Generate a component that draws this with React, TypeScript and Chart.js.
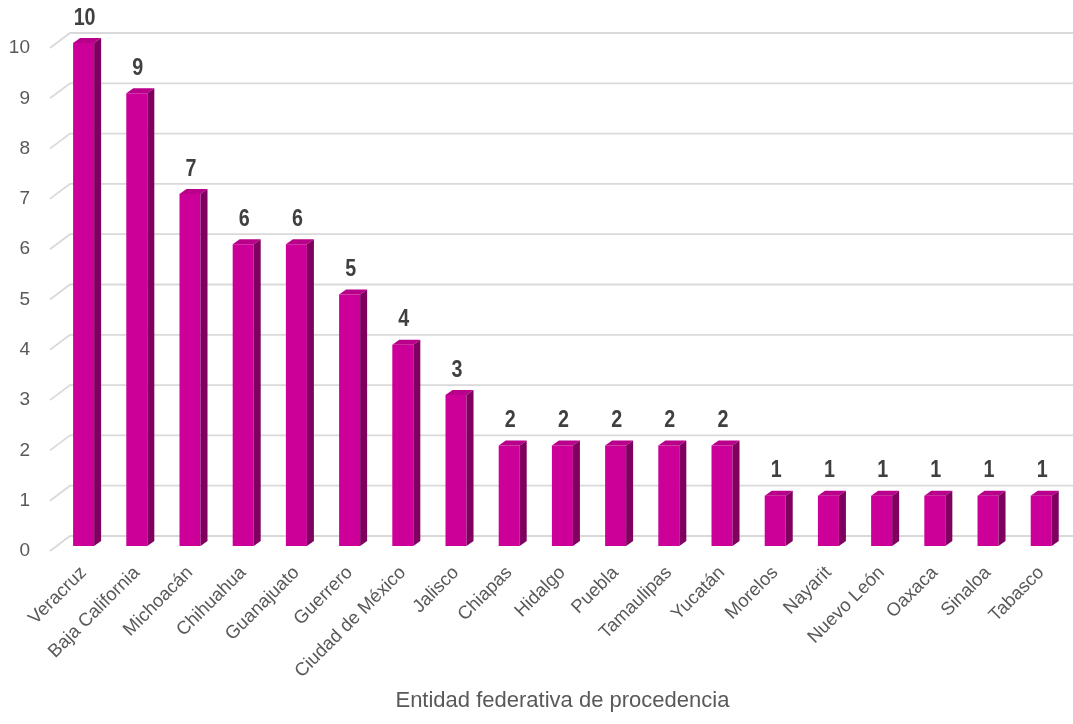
import { useEffect, useRef } from "react";
import { Chart, registerables } from "chart.js";

Chart.register(...registerables);

const categories = [
  "Veracruz",
  "Baja California",
  "Michoacán",
  "Chihuahua",
  "Guanajuato",
  "Guerrero",
  "Ciudad de México",
  "Jalisco",
  "Chiapas",
  "Hidalgo",
  "Puebla",
  "Tamaulipas",
  "Yucatán",
  "Morelos",
  "Nayarit",
  "Nuevo León",
  "Oaxaca",
  "Sinaloa",
  "Tabasco",
];
const values = [10, 9, 7, 6, 6, 5, 4, 3, 2, 2, 2, 2, 2, 1, 1, 1, 1, 1, 1];
const yMin = 0;
const yMax = 10;
const yStep = 1;
const xTitle = "Entidad federativa de procedencia";

const FONT = "'Liberation Sans', Arial, sans-serif";
const FRONT = "#CC0099";
const TOP = "#B8008A";
const SIDE = "#800060";
const GRID = "#D9D9D9";
const TEXT = "#595959";
const LABEL = "#404040";
const DX = 7;
const DY = 5;

const bar3d = {
  id: "bar3d",
  beforeDatasetsDraw(chart: any) {
    const { ctx, chartArea, scales } = chart;
    const y = scales.y;
    ctx.save();
    ctx.strokeStyle = GRID;
    ctx.lineWidth = 1.8;
    y.ticks.forEach((t: any) => {
      const py = y.getPixelForValue(t.value);
      ctx.beginPath();
      ctx.moveTo(chartArea.left - 7, py + 5);
      ctx.lineTo(chartArea.left + 13, py - 10);
      ctx.lineTo(chart.width, py - 10);
      ctx.stroke();
    });
    ctx.restore();
  },
  afterDatasetsDraw(chart: any) {
    const { ctx } = chart;
    const meta = chart.getDatasetMeta(0);
    meta.data.forEach((bar: any, i: number) => {
      const { x, y, base, width } = bar.getProps(["x", "y", "base", "width"], true);
      const l = x - width / 2;
      const r = x + width / 2;
      ctx.save();
      ctx.fillStyle = TOP;
      ctx.beginPath();
      ctx.moveTo(l, y);
      ctx.lineTo(l + DX, y - DY);
      ctx.lineTo(r + DX, y - DY);
      ctx.lineTo(r, y);
      ctx.closePath();
      ctx.fill();
      ctx.fillStyle = SIDE;
      ctx.beginPath();
      ctx.moveTo(r, y);
      ctx.lineTo(r + DX, y - DY);
      ctx.lineTo(r + DX, base - DY);
      ctx.lineTo(r, base);
      ctx.closePath();
      ctx.fill();
      // narrow bold value label
      ctx.translate(x + 1, y - 25);
      ctx.scale(0.82, 1);
      ctx.fillStyle = LABEL;
      ctx.font = `bold 24px ${FONT}`;
      ctx.textAlign = "center";
      ctx.textBaseline = "middle";
      ctx.fillText(String(values[i]), 0, 0);
      ctx.restore();
    });
  },
};

export default function App() {
  const ref = useRef<HTMLCanvasElement>(null);
  useEffect(() => {
    if (!ref.current) return;
    const chart = new Chart(ref.current, {
      type: "bar",
      data: {
        labels: categories,
        datasets: [
          {
            data: values,
            backgroundColor: FRONT,
            borderWidth: 0,
            categoryPercentage: 1,
            barPercentage: 0.395,
          },
        ],
      },
      options: {
        animation: false,
        responsive: true,
        maintainAspectRatio: false,
        layout: { padding: { top: 43, right: 3, left: 0, bottom: 0 } },
        plugins: {
          legend: { display: false },
          tooltip: { enabled: false },
        },
        scales: {
          x: {
            grid: { display: false, drawTicks: false },
            border: { display: false },
            ticks: {
              autoSkip: false,
              maxRotation: 45,
              minRotation: 45,
              padding: 16,
              labelOffset: 0,
              color: TEXT,
              font: { family: FONT, size: 18.5 },
            },
            title: {
              display: true,
              text: xTitle,
              color: TEXT,
              font: { family: FONT, size: 22 },
              padding: { top: 0, bottom: 10 },
            },
            afterFit: (scale: any) => {
              scale.height = 178;
            },
          },
          y: {
            min: yMin,
            max: yMax,
            grid: { display: false, drawTicks: false },
            border: { display: false },
            ticks: {
              stepSize: yStep,
              padding: 27,
              labelOffset: 5,
              color: TEXT,
              font: { family: FONT, size: 19 },
            },
            afterFit: (scale: any) => {
              scale.width = 57;
            },
          },
        },
      },
      plugins: [bar3d],
    });
    return () => chart.destroy();
  }, []);
  return (
    <div style={{ position: "absolute", left: 0, top: 0, width: 1073, height: 724 }}>
      <canvas ref={ref} />
    </div>
  );
}
